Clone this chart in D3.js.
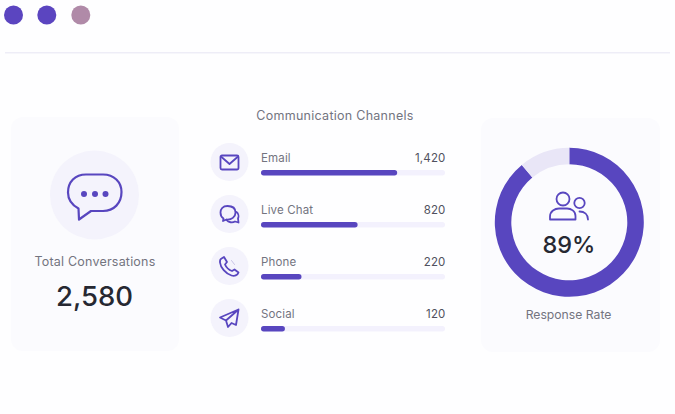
<!DOCTYPE html>
<html><head><meta charset="utf-8">
<script src="https://cdn.jsdelivr.net/npm/d3@7"></script>
<style>html,body{margin:0;padding:0;background:#fff;overflow:hidden}svg{display:block;font-family:Inter,sans-serif}</style>
</head><body><svg id="c" width="675" height="414"></svg>
<script>
const channels = ["Email","Live Chat","Phone","Social"];
const channelValues = [1420,820,220,120];
const channelBarShare = [74,52.5,22,13];
const responseRate = [89,11];
const totalConversations = "2,580";
const dotColors = ["#5b45c0","#5b45c0","#b08aa8"];
const purple="#5846bf", track="#f3f1fd", grey="#73747f", dark="#262832";

const svg=d3.select("#c");
svg.append("rect").attr("width",675).attr("height",414).attr("fill","#fefeff");

svg.selectAll(".dot").data(dotColors).join("circle")
 .attr("cx",(d,i)=>[13.5,46.8,80.8][i]).attr("cy",15).attr("r",9.5).attr("fill",d=>d);
svg.append("rect").attr("x",5).attr("y",52).attr("width",665).attr("height",1.5).attr("fill","#eeedf7");

[[11,117,168,234],[481,118,179,234]].forEach(([x,y,w,h])=>
 svg.append("rect").attr("x",x).attr("y",y).attr("width",w).attr("height",h).attr("rx",12).attr("fill","#fbfbfe"));

const stroke=(g)=>g.attr("fill","none").attr("stroke",purple).attr("stroke-linecap","round").attr("stroke-linejoin","round");

svg.append("circle").attr("cx",94.5).attr("cy",195).attr("r",44.5).attr("fill","#f4f3fc");
const chat=svg.append("g").call(stroke).attr("stroke-width",2.2);
chat.append("path").attr("d","M86 174.500 H103 C114 174.500 121.500 182 121.500 192 C121.500 203 114 211 103 211 H91 L79 219.500 L78.500 208.500 C72 205 68 199 68 192.500 C68 182 75 174.500 86 174.500 Z");
[84,95,105.500].forEach(x=>svg.append("circle").attr("cx",x).attr("cy",194).attr("r",3).attr("fill",purple));
svg.append("text").attr("x",95).attr("y",266).attr("text-anchor","middle").attr("font-size",12.5).attr("fill",grey).attr("letter-spacing",0.2).text("Total Conversations");
svg.append("text").attr("x",94.500).attr("y",306).attr("text-anchor","middle").attr("font-size",27.500).attr("font-weight",550).attr("fill",dark).text(totalConversations);

svg.append("text").attr("x",335).attr("y",120).attr("text-anchor","middle").attr("font-size",12.500).attr("fill",grey).attr("letter-spacing",0.27).text("Communication Channels");

const x=d3.scaleLinear().domain([0,100]).range([261,445]);
const y=d3.scaleBand().domain(channels).range([136,344]).paddingInner(0).paddingOuter(0);
const icons={
 "Email":g=>{g.append("rect").attr("x",-9).attr("y",-7).attr("width",18).attr("height",14).attr("rx",1.5);
   g.append("path").attr("d","M-8 -5.500 L0 1.500 L8 -5.500");},
 "Live Chat":g=>{g.append("path").attr("d","M-2 -8.500 C-7 -8.500 -9 -5 -9 -2 C-9 1 -7.500 3 -6 4 L-6.500 6.500 L-3 5 C2 5.500 6 2.500 6 -2 C6 -6 3 -8.500 -2 -8.500 Z");
   g.append("path").attr("d","M7 -2.500 C9 -1 9.500 2 8.500 4 L9 8 L5.500 7 C3 8.500 -1 8 -3 5.500");},
 "Phone":g=>{g.append("path").attr("d","M-8 -8 L-5.500 -9.500 L-2.500 -4.500 L-4.500 -2 C-3 1.500 -0.500 3.500 2.500 4.500 L5 3 L9 6 C8 9 5 10 2 9 C-4 7 -9 1 -9.500 -4 C-9.700 -6 -9 -7.500 -8 -8 Z");
   g.append("path").attr("d","M2 -6 L5 -2").attr("stroke","#c9c4e6").attr("stroke-width",1);},
 "Social":g=>{g.append("path").attr("d","M9 -9 L-9.500 -1 L-3.500 2 L-1.500 8.500 L2 4.500 L6.500 6.500 Z M9 -9 L-3.500 2");}
};
const rows=svg.selectAll(".row").data(channels.map((c,i)=>({c,v:channelValues[i],s:channelBarShare[i]}))).join("g").attr("class","row")
 .attr("transform",d=>`translate(0,${y(d.c)})`);
rows.append("circle").attr("cx",229.500).attr("cy",26).attr("r",19).attr("fill","#f4f3fc");
rows.append("g").attr("transform","translate(229.500,26.500)").call(stroke).attr("stroke-width",1.8).each(function(d){icons[d.c](d3.select(this));});
rows.append("text").attr("x",261).attr("y",26).attr("font-size",11.500).attr("fill",grey).attr("letter-spacing",0.15).text(d=>d.c);
rows.append("text").attr("x",445.500).attr("y",26).attr("text-anchor","end").attr("font-size",11.500).attr("fill","#50515e").attr("letter-spacing",0.15).text(d=>d3.format(",")(d.v));
rows.append("rect").attr("x",x(0)).attr("y",34).attr("width",x(100)-x(0)).attr("height",5.500).attr("rx",2.700).attr("fill",track);
rows.append("rect").attr("x",x(0)).attr("y",34).attr("width",d=>x(d.s)-x(0)).attr("height",5.500).attr("rx",2.700).attr("fill",purple);

const pie=d3.pie().sort(null).value(d=>d);
const arc=d3.arc().innerRadius(58).outerRadius(74.500);
const dg=svg.append("g").attr("transform","translate(569.300,222.300)");
dg.selectAll("path").data(pie(responseRate)).join("path").attr("d",arc).attr("fill",(d,i)=>i?"#e9e6f7":purple);
const u=svg.append("g").call(stroke).attr("stroke-width",1.8);
u.append("circle").attr("cx",563).attr("cy",199).attr("r",6.500);
u.append("circle").attr("cx",579.500).attr("cy",203).attr("r",5.200);
u.append("path").attr("d","M550 219.500 V216.500 C550 211 555 208.500 559 208.500 H567 C571 208.500 575.500 211 575.500 216 V219.500 Z");
u.append("path").attr("d","M579.500 211.500 C584.500 211.500 588 214.500 588 219.500");
svg.append("text").attr("x",569).attr("y",253).attr("text-anchor","middle").attr("font-size",23.500).attr("font-weight",550).attr("fill",dark).text(responseRate[0]+"%");
svg.append("text").attr("x",568.500).attr("y",319).attr("text-anchor","middle").attr("font-size",12.200).attr("fill",grey).text("Response Rate");
</script></body></html>
